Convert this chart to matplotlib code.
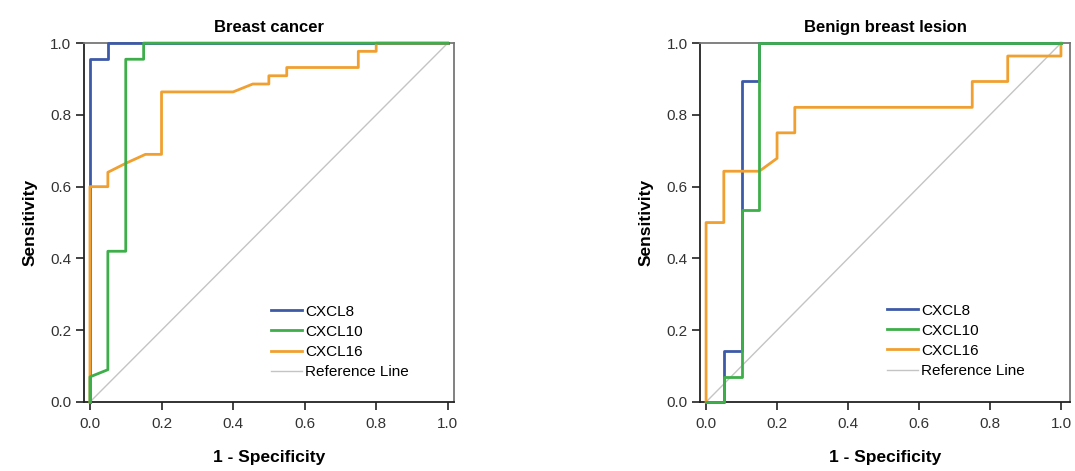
import matplotlib
matplotlib.use("Agg")
import matplotlib.pyplot as plt

plt.rcParams['font.family'] = ['Liberation Sans', 'DejaVu Sans']

# ROC curves (x = 1 - specificity, y = sensitivity)
cancer_cxcl8_x = [0, 0, 0.05, 0.05, 1.0]
cancer_cxcl8_y = [0, 0.955, 0.955, 1.0, 1.0]
cancer_cxcl10_x = [0, 0, 0.05, 0.05, 0.10, 0.10, 0.15, 0.15, 1.0]
cancer_cxcl10_y = [0, 0.07, 0.09, 0.42, 0.42, 0.955, 0.955, 1.0, 1.0]
cancer_cxcl16_x = [0, 0, 0.05, 0.05, 0.10, 0.155, 0.20, 0.20, 0.40, 0.455, 0.50, 0.50,
                   0.55, 0.55, 0.75, 0.75, 0.80, 0.80, 1.0]
cancer_cxcl16_y = [0, 0.60, 0.60, 0.64, 0.665, 0.69, 0.69, 0.864, 0.864, 0.886, 0.886, 0.909,
                   0.909, 0.932, 0.932, 0.977, 0.977, 1.0, 1.0]

benign_cxcl8_x = [0, 0.05, 0.05, 0.10, 0.10, 0.15, 0.15, 1.0]
benign_cxcl8_y = [0, 0, 0.143, 0.143, 0.893, 0.893, 1.0, 1.0]
benign_cxcl10_x = [0, 0.05, 0.05, 0.10, 0.10, 0.15, 0.15, 1.0]
benign_cxcl10_y = [0, 0, 0.071, 0.071, 0.536, 0.536, 1.0, 1.0]
benign_cxcl16_x = [0, 0, 0.05, 0.05, 0.15, 0.20, 0.20, 0.25, 0.25, 0.75, 0.75, 0.85, 0.85, 1.0, 1.0]
benign_cxcl16_y = [0, 0.50, 0.50, 0.643, 0.643, 0.679, 0.75, 0.75, 0.821, 0.821, 0.893, 0.893,
                   0.964, 0.964, 1.0]

panel_titles = ['Breast cancer', 'Benign breast lesion']
series_names = ['CXCL8', 'CXCL10', 'CXCL16']
series_colors = ['#3d5aa8', '#3dae4a', '#f0a030']
series_z = [3, 5, 4]
ticks = [0.0, 0.2, 0.4, 0.6, 0.8, 1.0]

panels = [
    [(cancer_cxcl8_x, cancer_cxcl8_y), (cancer_cxcl10_x, cancer_cxcl10_y), (cancer_cxcl16_x, cancer_cxcl16_y)],
    [(benign_cxcl8_x, benign_cxcl8_y), (benign_cxcl10_x, benign_cxcl10_y), (benign_cxcl16_x, benign_cxcl16_y)],
]

fig = plt.figure(figsize=(10.75, 4.71), dpi=100)
ax_rects = [[0.0781, 0.1465, 0.344, 0.762], [0.6512, 0.1465, 0.344, 0.762]]
xlims = [(-0.0168, 1.0168), (-0.017, 1.025)]
legend_anchor = [(0.49, 0.047), (0.49, 0.05)]

for i, title in enumerate(panel_titles):
    ax = fig.add_axes(ax_rects[i])
    for (xs, ys), name, col, z in zip(panels[i], series_names, series_colors, series_z):
        ax.plot(xs, ys, color=col, lw=2.0, label=name, clip_on=False, zorder=z)
    ax.plot([0, 1], [0, 1], color='#c4c4c4', lw=1.0, label='Reference Line', zorder=2)

    ax.set_xlim(*xlims[i])
    ax.set_ylim(0, 1)
    ax.set_xticks(ticks)
    ax.set_yticks(ticks)
    ax.set_xticklabels([f"{t:.1f}" for t in ticks])
    ax.set_yticklabels([f"{t:.1f}" for t in ticks])
    ax.tick_params(direction='out', length=6, width=1.2, colors='#222222',
                   labelsize=11, labelcolor='#333333', pad=3)
    ax.tick_params(axis='x', pad=4.5)
    for side in ['left', 'bottom']:
        ax.spines[side].set_color('#222222')
        ax.spines[side].set_linewidth(1.3)
    for side in ['top', 'right']:
        ax.spines[side].set_color('#777777')
        ax.spines[side].set_linewidth(1.3)

    ax.set_title(title, fontsize=12, fontweight='bold', pad=8)
    ax.set_xlabel('1 - Specificity', fontsize=12.5, fontweight='bold', labelpad=14)
    ax.set_ylabel('Sensitivity', fontsize=12.5, fontweight='bold', labelpad=9)

    ax.legend(loc='lower left', bbox_to_anchor=legend_anchor[i], frameon=False,
              fontsize=11, handlelength=2.0, handletextpad=0.2, labelspacing=0.4,
              borderaxespad=0)

fig.savefig('out.png', dpi=100)
